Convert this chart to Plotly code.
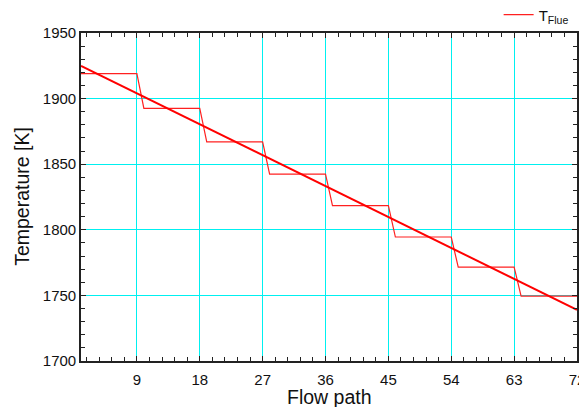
import plotly.graph_objects as go

# Stepped flue temperature profile (x, y)
step_x = [1, 9, 10, 18, 19, 27, 28, 36, 37, 45, 46, 54, 55, 63, 64, 72]
step_y = [1919, 1919, 1892.5, 1892.5, 1867, 1867, 1842.5, 1842.5,
          1818.5, 1818.5, 1794.5, 1794.5, 1771.5, 1771.5, 1749.5, 1749.5]

# Straight (linear) trend line
line_x = [1, 72]
line_y = [1925, 1739]

x_ticks = [9, 18, 27, 36, 45, 54, 63, 72]
y_ticks = [1700, 1750, 1800, 1850, 1900, 1950]

FONT = "Liberation Sans, Arial"
GRID = "#00f0f0"

# minor tick positions (5 per major interval), excluding major positions
x_minor = [round(k * 1.8, 1) for k in range(1, 40) if k % 5 != 0]
y_minor = [1700 + 10 * k for k in range(1, 25) if k % 5 != 0]

fig = go.Figure()
fig.add_trace(go.Scatter(x=step_x, y=step_y, mode="lines",
                         line=dict(color="#ff2020", width=1.2),
                         name="T<sub>Flue</sub>", showlegend=True))
fig.add_trace(go.Scatter(x=line_x, y=line_y, mode="lines",
                         line=dict(color="#ff0000", width=2),
                         showlegend=False))

axis_common = dict(
    showline=True, linecolor="#222222", linewidth=1.6, mirror="ticks",
    ticks="inside", ticklen=5, tickcolor="#222222", tickwidth=1,
    showgrid=True, gridcolor=GRID, gridwidth=1.3, zeroline=False,
    automargin=False,
    tickfont=dict(family=FONT, size=15, color="#111111"),
)

fig.update_xaxes(range=[1, 72], tickvals=x_ticks, ticktext=[str(v) for v in x_ticks],
                 ticklabelstandoff=4,
                 minor=dict(tickvals=x_minor, ticks="inside", ticklen=4,
                            tickcolor="#222222", showgrid=False),
                 **axis_common)
fig.update_yaxes(range=[1700, 1950], tickvals=y_ticks, ticktext=[str(v) for v in y_ticks],
                 minor=dict(tickvals=y_minor, ticks="inside", ticklen=4,
                            tickcolor="#222222", showgrid=False),
                 **axis_common)

# Axis titles placed as annotations (paper coordinates relative to plot area)
fig.add_annotation(text="Flow path", xref="paper", yref="paper",
                   x=0.5, y=-0.111, xanchor="center", yanchor="middle",
                   showarrow=False,
                   font=dict(family=FONT, size=19.5, color="#111111"))
fig.add_annotation(text="Temperature [K]", xref="paper", yref="paper",
                   x=-0.118, y=0.502, xanchor="center", yanchor="middle",
                   textangle=-90, showarrow=False,
                   font=dict(family=FONT, size=19.5, color="#111111"))

# page has an 8px body margin, so the figure is offset by 8px
fig.update_layout(
    width=579, height=399,
    margin=dict(l=73, r=10, t=25, b=46, autoexpand=False),
    plot_bgcolor="white", paper_bgcolor="white",
    font=dict(family=FONT, color="#111111"),
    legend=dict(x=0.842, y=1.055, xanchor="left", yanchor="middle",
                bgcolor="rgba(0,0,0,0)", font=dict(family=FONT, size=15),
                itemwidth=30),
)

fig.write_html("out.html")
